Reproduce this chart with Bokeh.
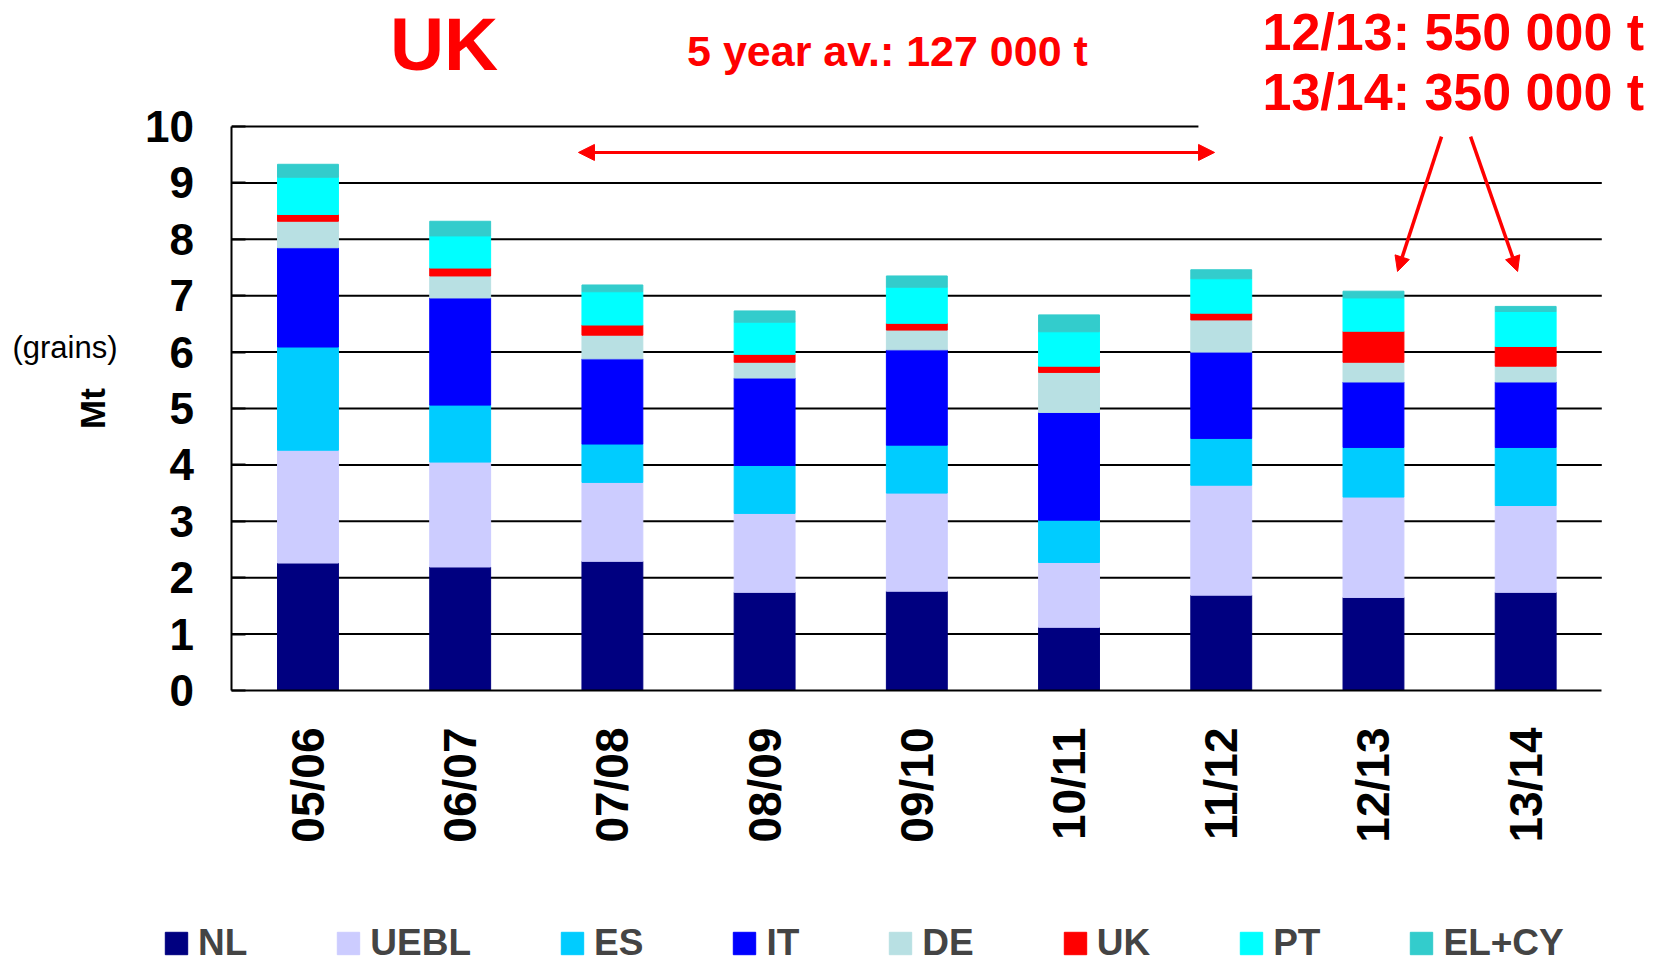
from bokeh.plotting import figure
from bokeh.models import (Range1d, FixedTicker, Legend, LegendItem, Arrow, NormalHead,
                          Label, ColumnDataSource, LinearAxis)
from bokeh.embed import file_html
from bokeh.resources import INLINE
import math

# ---- data (Mt) ----
seasons = ["05/06", "06/07", "07/08", "08/09", "09/10", "10/11", "11/12", "12/13", "13/14"]
NL   = [2.26, 2.19, 2.29, 1.74, 1.76, 1.12, 1.69, 1.65, 1.74]
UEBL = [2.00, 1.86, 1.40, 1.40, 1.74, 1.15, 1.95, 1.78, 1.54]
ES   = [1.83, 1.01, 0.68, 0.85, 0.85, 0.75, 0.83, 0.88, 1.03]
IT   = [1.76, 1.90, 1.51, 1.55, 1.69, 1.91, 1.53, 1.16, 1.16]
DE   = [0.47, 0.39, 0.42, 0.28, 0.35, 0.71, 0.57, 0.35, 0.28]
UK   = [0.12, 0.14, 0.18, 0.14, 0.12, 0.11, 0.12, 0.55, 0.35]
PT   = [0.66, 0.57, 0.59, 0.57, 0.64, 0.61, 0.61, 0.59, 0.62]
ELCY = [0.23, 0.26, 0.12, 0.20, 0.20, 0.30, 0.16, 0.12, 0.09]

series_names = ["NL", "UEBL", "ES", "IT", "DE", "UK", "PT", "EL+CY"]
series_values = [NL, UEBL, ES, IT, DE, UK, PT, ELCY]
series_colors = ["#000080", "#CCCCFF", "#00CCFF", "#0000FF", "#B8E0E3", "#FF0000", "#00FFFF", "#33CCCC"]
y_ticks = [0, 1, 2, 3, 4, 5, 6, 7, 8, 9, 10]

FONT = "Liberation Sans"

# category slots: season i occupies [i, i+1] on the x scale
n_cat = len(seasons)
x_centers = [i + 0.5 for i in range(n_cat)]

data = {"x": x_centers, "season": seasons}
for n, v in zip(series_names, series_values):
    data[n] = v
src = ColumnDataSource(data)

# the frame covers the whole canvas; axes sit at fixed data locations
p = figure(x_range=Range1d(-1.520, 9.412), y_range=Range1d(-4.929, 12.234),
           width=1664, height=968, frame_width=1664, frame_height=968,
           min_border=0, min_border_left=0, min_border_right=0, min_border_top=0, min_border_bottom=0,
           x_axis_location=None, y_axis_location=None,
           output_backend="svg", toolbar_location=None,
           outline_line_color=None, background_fill_color="white", border_fill_color="white")
p.xgrid.visible = False
p.ygrid.visible = False

# horizontal grid lines; the top one stops short as in the original
grid_y = y_ticks[1:-1]
p.segment(x0=[0] * len(grid_y), y0=grid_y, x1=[n_cat] * len(grid_y), y1=grid_y,
          line_color="black", line_width=2)
p.segment(x0=[0], y0=[y_ticks[-1]], x1=[6.35], y1=[y_ticks[-1]], line_color="black", line_width=2)

renderers = p.vbar_stack(series_names, x="x", width=0.4, color=series_colors, source=src)

# y axis
yaxis = LinearAxis(fixed_location=0, bounds=(0, 10), ticker=FixedTicker(ticks=y_ticks))
yaxis.axis_line_color = "black"
yaxis.axis_line_width = 2
yaxis.major_tick_in = 14
yaxis.major_tick_out = 0
yaxis.major_tick_line_width = 2
yaxis.minor_tick_line_color = None
yaxis.major_label_text_font = FONT
yaxis.major_label_text_font_style = "bold"
yaxis.major_label_text_font_size = "44px"
yaxis.major_label_text_color = "black"
yaxis.major_label_standoff = 38
yaxis.axis_label = "Mt"
yaxis.axis_label_text_font = FONT
yaxis.axis_label_text_font_style = "bold"
yaxis.axis_label_text_font_size = "35px"
yaxis.axis_label_text_color = "black"
yaxis.axis_label_standoff = 30
p.add_layout(yaxis, "left")

# x axis (season labels)
xaxis = LinearAxis(fixed_location=0, bounds=(0, n_cat), ticker=FixedTicker(ticks=x_centers),
                   major_label_overrides={c: s for c, s in zip(x_centers, seasons)})
xaxis.axis_line_color = "black"
xaxis.axis_line_width = 2
xaxis.major_tick_line_color = None
xaxis.minor_tick_line_color = None
xaxis.major_tick_out = 0
xaxis.major_tick_in = 0
xaxis.major_label_orientation = math.pi / 2
xaxis.major_label_text_font = FONT
xaxis.major_label_text_font_style = "bold"
xaxis.major_label_text_font_size = "46px"
xaxis.major_label_text_color = "black"
xaxis.major_label_standoff = 37
p.add_layout(xaxis, "below")

# legend
items = [LegendItem(label=n, renderers=[r]) for n, r in zip(series_names, renderers)]
legend = Legend(items=items, orientation="horizontal", location=(162, 4),
                border_line_color=None, background_fill_alpha=0, padding=0, margin=0,
                spacing=87, glyph_width=28, glyph_height=28, label_standoff=8,
                label_text_font=FONT, label_text_font_style="bold",
                label_text_font_size="37px", label_height=25)
p.add_layout(legend, "center")

# text annotations
def lab(text, x, y, size, align="center", style="bold", color="red"):
    p.add_layout(Label(x=x, y=y, text=text, text_font=FONT, text_font_style=style,
                       text_font_size=size, text_color=color, text_align=align,
                       text_baseline="alphabetic"))

lab("UK", 1.394, 11.454, "75px")
lab("5 year av.: 127 000 t", 4.307, 11.342, "43px")
lab("12/13: 550 000 t", 6.771, 11.675, "52px", align="left")
lab("13/14: 350 000 t", 6.771, 10.607, "52px", align="left")
lab("(grains)", -1.0966, 6.09, "31px", style="normal", color="black")

# arrows
p.add_layout(Arrow(x_start=2.277, y_start=9.54, x_end=6.456, y_end=9.54,
                   start=NormalHead(size=16, fill_color="red", line_color="red"),
                   end=NormalHead(size=16, fill_color="red", line_color="red"),
                   line_color="red", line_width=3))
p.add_layout(Arrow(x_start=7.947, y_start=9.82, x_end=7.658, y_end=7.43,
                   end=NormalHead(size=15, fill_color="red", line_color="red"),
                   line_color="red", line_width=3.5))
p.add_layout(Arrow(x_start=8.138, y_start=9.82, x_end=8.447, y_end=7.43,
                   end=NormalHead(size=15, fill_color="red", line_color="red"),
                   line_color="red", line_width=3.5))

open("out.html", "w").write(file_html(p, INLINE))
